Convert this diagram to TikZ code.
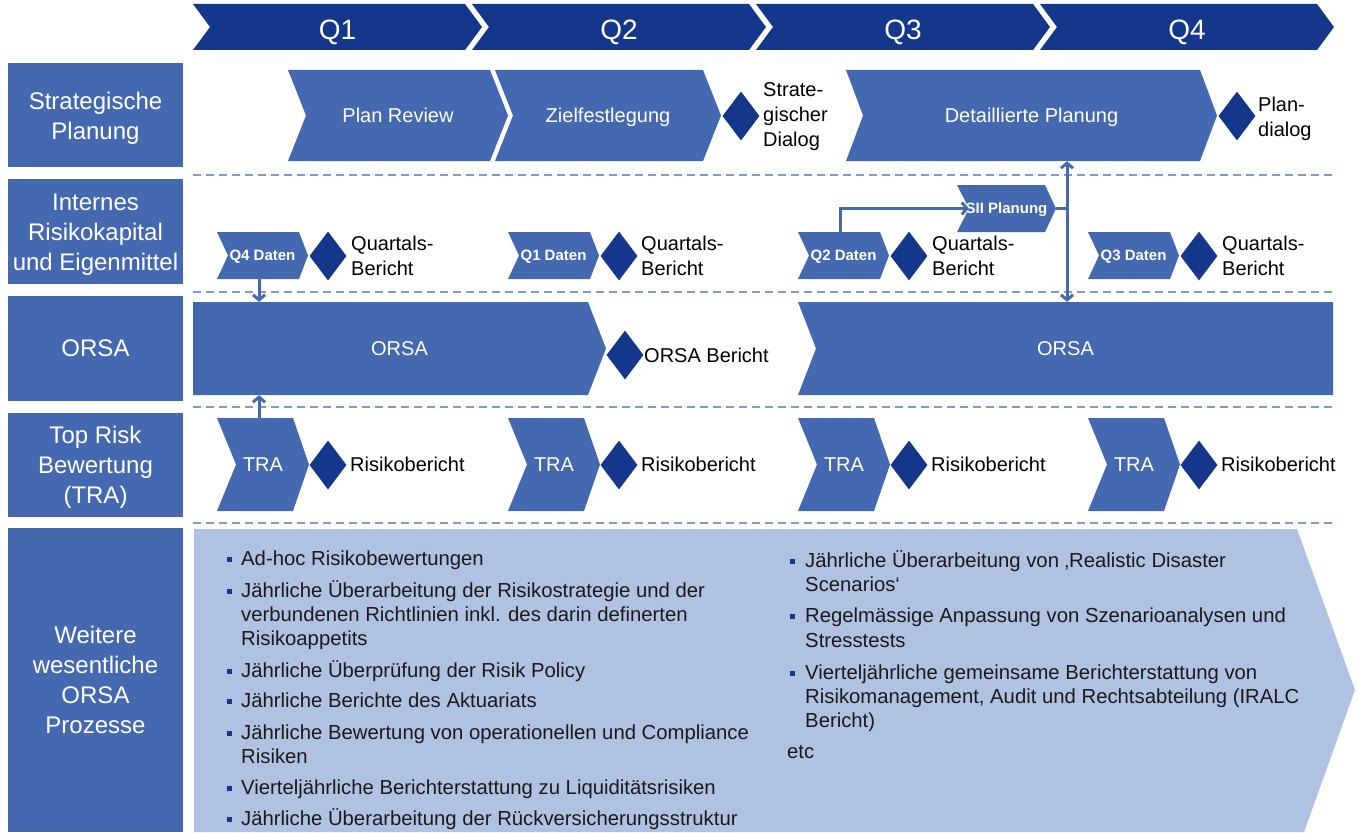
\documentclass[tikz,border=0pt]{standalone}
\usepackage{fontspec}
\setmainfont{Liberation Sans}
\usetikzlibrary{shapes.geometric,arrows.meta}
\definecolor{navy}{HTML}{15378B}
\definecolor{mid}{HTML}{4569B1}
\definecolor{light}{HTML}{B0C2E1}
\definecolor{sepblue}{HTML}{7D9CD3}
\definecolor{txt}{HTML}{1A1A1A}
\newcommand{\fQ}{\fontsize{28}{32}\selectfont}
\newcommand{\fCh}{\fontsize{20}{24}\selectfont}
\newcommand{\fDat}{\fontsize{15}{18}\selectfont\bfseries}
\newcommand{\cv}[1]{\raisebox{-0.36em}[0pt][0pt]{#1}}
\newcommand{\cvq}[1]{\raisebox{-0.45em}[0pt][0pt]{#1}}
% chevron: name, x1, y1, x2(tip), y2, tip depth, notch depth, colour, text
\newcommand{\chevr}[9]{%
  \fill[#8] (#2,#3) -- ({#4-#6},#3) -- (#4,{(#3+#5)/2}) -- ({#4-#6},#5) -- (#2,#5) -- ({#2+#7},{(#3+#5)/2}) -- cycle;
  \node[inner sep=0pt, minimum width={#4-#2}, minimum height={#5-#3}, text=white, align=center] (#1) at ({(#2+#4)/2},{(#3+#5)/2}) {#9};}
\tikzset{
  lab/.style={fill=mid, text=white, minimum width=175, inner sep=0pt, align=center, font=\fontsize{24}{30}\selectfont},
  dia/.style={diamond, fill=navy, inner sep=0pt, minimum width=37, minimum height=49},
  outl/.style={anchor=west, align=left, inner sep=0pt, font=\fontsize{20}{25}\selectfont, text=black},
  conn/.style={draw=mid, line width=3pt},
  tipb/.style={-{Straight Barb[length=5pt,width=12pt]}},
  sep/.style={draw=sepblue, line width=1.5pt, dash pattern=on 8pt off 5pt},
  bt/.style={anchor=base west, inner sep=0pt, font=\fontsize{20.3}{24}\selectfont, text=txt},
  blt/.style={fill=navy, minimum size=5, inner sep=0pt},
}
\begin{document}
\begin{tikzpicture}[x=1pt,y=-1pt]
\useasboundingbox (0,0) rectangle (1359,832);
\fill[white] (0,0) rectangle (1359,832);

% header
\chevr{q1}{193}{4}{482}{50}{17}{17}{navy}{\fQ\cvq{Q1}}
\chevr{q2}{472}{4}{766}{50}{17}{17}{navy}{\fQ\cvq{Q2}}
\chevr{q3}{756}{4}{1050}{50}{17}{17}{navy}{\fQ\cvq{Q3}}
\chevr{q4}{1040}{4}{1334}{50}{17}{17}{navy}{\fQ\cvq{Q4}}

% row labels
\node[lab, minimum height=104] (r1) at (95.5,115) {};
\node[text=white, align=center, inner sep=0pt, font=\fontsize{24}{30}\selectfont] (r1t) at (95.5,118) {Strategische\\Planung};
\node[lab, minimum height=105] (r2) at (95.5,231.5) {};
\node[text=white, align=center, inner sep=0pt, font=\fontsize{24}{30}\selectfont] (r2t) at (95.5,234.5) {Internes\\Risikokapital\\und Eigenmittel};
\node[lab, minimum height=105] (r3) at (95.5,348.5) {ORSA};
\node[lab, minimum height=104] (r4) at (95.5,465) {};
\node[text=white, align=center, inner sep=0pt, font=\fontsize{24}{30}\selectfont] (r4t) at (95.5,467) {Top Risk\\Bewertung\\(TRA)};
\node[lab, minimum height=304] (r5) at (95.5,680) {Weitere\\wesentliche\\ORSA\\Prozesse};

% separators
\foreach \yy in {175,292,407,523} \draw[sep] (193,\yy) -- (1336,\yy);

% row 1
\chevr{plan}{288}{70}{508}{161}{18}{18}{mid}{\fCh\cv{Plan Review}}
\chevr{ziel}{495}{70}{721}{161}{18}{18}{mid}{\fCh\cv{Zielfestlegung}}
\node[dia] (d1) at (741,116) {};
\node[outl] (t1) at (763,117) {Strate-\\gischer\\Dialog};
\chevr{det}{846}{70}{1217}{161}{17}{17}{mid}{\fCh\cv{Detaillierte Planung}}
\node[dia] (d2) at (1237,116) {};
\node[outl] (t2) at (1258,118.5) {Plan-\\dialog};

% row 2
\chevr{q4d}{217}{232}{308}{279}{9}{11}{mid}{\fDat\cv{Q4 Daten}}
\node[dia] (d3) at (328,256) {};
\node[outl] (t3) at (351,256) {Quartals-\\Bericht};
\chevr{q1d}{508}{232}{599}{279}{9}{11}{mid}{\fDat\cv{Q1 Daten}}
\node[dia] (d4) at (619,256) {};
\node[outl] (t4) at (641,256) {Quartals-\\Bericht};
\chevr{q2d}{798}{232}{889}{279}{9}{11}{mid}{\fDat\cv{Q2 Daten}}
\node[dia] (d5) at (909,256) {};
\node[outl] (t5) at (932,256) {Quartals-\\Bericht};
\chevr{q3d}{1088}{232}{1179}{279}{9}{11}{mid}{\fDat\cv{Q3 Daten}}
\node[dia] (d6) at (1199,256) {};
\node[outl] (t6) at (1222,256) {Quartals-\\Bericht};
\chevr{sii}{957}{185}{1056}{232}{11}{12}{mid}{\fDat\cv{SII Planung}}

% row 3
\chevr{orsa1}{193}{302}{606}{395}{18}{0}{mid}{\fCh\cv{ORSA}}
\node[dia] (d7) at (625,355) {};
\node[outl] (t7) at (644,355) {ORSA Bericht};
\chevr{orsa2}{798}{302}{1333}{395}{0}{18}{mid}{\fCh\cv{ORSA}}

% row 4
\chevr{tra1}{217}{418}{309}{511}{16}{19}{mid}{\fCh\cv{TRA}}
\node[dia] (d8) at (328,465) {};
\node[outl] (t8) at (350,464) {Risikobericht};
\chevr{tra2}{508}{418}{600}{511}{16}{19}{mid}{\fCh\cv{TRA}}
\node[dia] (d9) at (619,465) {};
\node[outl] (t9) at (641,464) {Risikobericht};
\chevr{tra3}{798}{418}{890}{511}{16}{19}{mid}{\fCh\cv{TRA}}
\node[dia] (d10) at (909,465) {};
\node[outl] (t10) at (931,464) {Risikobericht};
\chevr{tra4}{1088}{418}{1180}{511}{16}{19}{mid}{\fCh\cv{TRA}}
\node[dia] (d11) at (1199,465) {};
\node[outl] (t11) at (1221,464) {Risikobericht};

% connectors
\coordinate (vx) at (1067,0);
\coordinate (ax) at (259,0);
\draw[conn,tipb] (q4d.south -| ax) -- (orsa1.north -| ax);
\draw[conn,tipb] (tra1.north -| ax) -- (orsa1.south -| ax);
\draw[conn,tipb] ([xshift=-3pt]q2d.north) |- ([xshift=12pt]sii.west);
\draw[conn] (sii.east) -- (sii.east -| vx);
\draw[conn,{Straight Barb[length=5pt,width=12pt]}-{Straight Barb[length=5pt,width=12pt]}] (det.south -| vx) -- (orsa2.north -| vx);

% bottom area
\fill[light] (194,529) -- (1297,529) -- (1355,690) -- (1304,832) -- (194,832) -- cycle;
\coordinate (weit) at (745,680);

\foreach \yy/\tt in {565/{Ad-hoc Risikobewertungen},
  597/{Jährliche Überarbeitung der Risikostrategie und der},
  621/{verbundenen Richtlinien inkl. des darin definerten},
  645/{Risikoappetits},
  677/{Jährliche Überprüfung der Risik Policy},
  707/{Jährliche Berichte des Aktuariats},
  739/{Jährliche Bewertung von operationellen und Compliance},
  763/{Risiken},
  794/{Vierteljährliche Berichterstattung zu Liquiditätsrisiken},
  825/{Jährliche Überarbeitung der Rückversicherungsstruktur}}
  \node[bt] (lt\yy) at (241,\yy) {\tt};
\foreach \yy in {559,591,671,701,733,788,819}
  \node[blt] (lb\yy) at (229,\yy) {};

\foreach \yy/\tt in {567/{Jährliche Überarbeitung von ‚Realistic Disaster},
  591/{Scenarios‘},
  622/{Regelmässige Anpassung von Szenarioanalysen und},
  647/{Stresstests},
  679/{Vierteljährliche gemeinsame Berichterstattung von},
  703/{Risikomanagement, Audit und Rechtsabteilung (IRALC},
  727/{Bericht)}}
  \node[bt] (rt\yy) at (805,\yy) {\tt};
\foreach \yy in {561,616,673}
  \node[blt] (rb\yy) at (792,\yy) {};
\node[bt] (etc) at (787,758) {etc};
\end{tikzpicture}
\end{document}
